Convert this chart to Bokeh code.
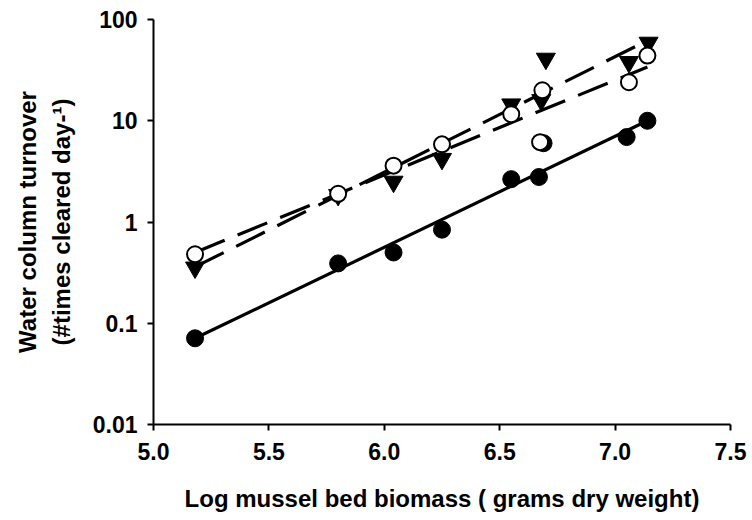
from bokeh.embed import file_html
from bokeh.models import CustomJSTickFormatter, FixedTicker, Range1d
from bokeh.plotting import figure
from bokeh.resources import INLINE

# Log mussel bed biomass (x) and water column turnover (times cleared per day)
biomass_filled = [5.18, 5.80, 6.04, 6.25, 6.55, 6.67, 7.05, 7.14]
turnover_filled = [0.071, 0.39, 0.50, 0.84, 2.65, 2.78, 6.9, 10.0]

biomass_open = [5.18, 5.80, 6.04, 6.25, 6.55, 6.685, 7.06, 7.14]
turnover_open = [0.48, 1.9, 3.6, 5.85, 11.6, 20.0, 24.0, 44.0]

biomass_tri = [5.18, 5.80, 6.04, 6.25, 6.55, 6.68, 6.70, 7.06, 7.145]
turnover_tri = [0.355, 1.85, 2.5, 4.2, 14.5, 16.0, 41.0, 38.0, 59.0]

# points lying off the fitted lines
biomass_extra_filled = [6.69]
turnover_extra_filled = [6.0]
biomass_extra_open = [6.675]
turnover_extra_open = [6.15]

# fitted power-law lines, end points
fit_x = [5.18, 7.14]
fit_filled = [0.071, 10.0]
fit_open = [0.50, 34.0]
fit_tri = [0.36, 62.0]

x_ticks = [5.0, 5.5, 6.0, 6.5, 7.0, 7.5]
y_ticks = [0.01, 0.1, 1, 10, 100]

FONT = "Liberation Sans"

p = figure(width=752, height=520,
           x_range=Range1d(5.0, 7.5), y_range=Range1d(0.01, 100),
           y_axis_type="log", output_backend="svg", toolbar_location=None,
           min_border_left=153, min_border_right=22,
           min_border_top=19, min_border_bottom=96,
           background_fill_color="white", border_fill_color="white")
p.outline_line_color = None
p.grid.visible = False

for ax in (p.xaxis[0], p.yaxis[0]):
    ax.axis_line_width = 2
    ax.axis_line_color = "black"
    ax.major_tick_line_width = 2
    ax.major_tick_line_color = "black"
    ax.major_tick_in = 0
    ax.major_tick_out = 6
    ax.minor_tick_in = 0
    ax.minor_tick_out = 0
    ax.major_label_text_font = FONT
    ax.major_label_text_font_style = "bold"
    ax.major_label_text_font_size = "23px"
    ax.major_label_text_color = "black"
    ax.axis_label_text_font = FONT
    ax.axis_label_text_font_style = "bold"
    ax.axis_label_text_font_size = "24px"
    ax.axis_label_text_color = "black"

p.xaxis.ticker = FixedTicker(ticks=x_ticks, minor_ticks=[])
p.xaxis.formatter = CustomJSTickFormatter(code="return tick.toFixed(1);")
p.xaxis.major_label_standoff = 12
p.xaxis.axis_label = "Log mussel bed biomass ( grams dry weight)"
p.xaxis.axis_label_standoff = 22

p.yaxis.ticker = FixedTicker(ticks=y_ticks, minor_ticks=[])
p.yaxis.formatter = CustomJSTickFormatter(code="return tick.toString();")
p.yaxis.major_label_standoff = 10
p.yaxis.axis_label = "Water column turnover\n(#times cleared day-\u00b9)"
p.yaxis.axis_label_text_line_height = 1.25
p.yaxis.axis_label_standoff = 15

# fitted lines
p.line(fit_x, fit_filled, line_color="black", line_width=3.2)
p.line(fit_x, fit_open, line_color="black", line_width=3.2, line_dash="32 14")
p.line(fit_x, fit_tri, line_color="black", line_width=3.2, line_dash="32 14")

# markers
p.scatter(biomass_extra_filled, turnover_extra_filled, marker="circle", size=17,
          fill_color="black", line_color="black")
p.scatter(biomass_filled, turnover_filled, marker="circle", size=17,
          fill_color="black", line_color="black")
p.scatter(biomass_tri, turnover_tri, marker="inverted_triangle", size=19,
          fill_color="black", line_color="black")
p.scatter(biomass_open + biomass_extra_open, turnover_open + turnover_extra_open,
          marker="circle", size=16, fill_color="white", line_color="black",
          line_width=2)

open("out.html", "w").write(file_html(p, INLINE))
